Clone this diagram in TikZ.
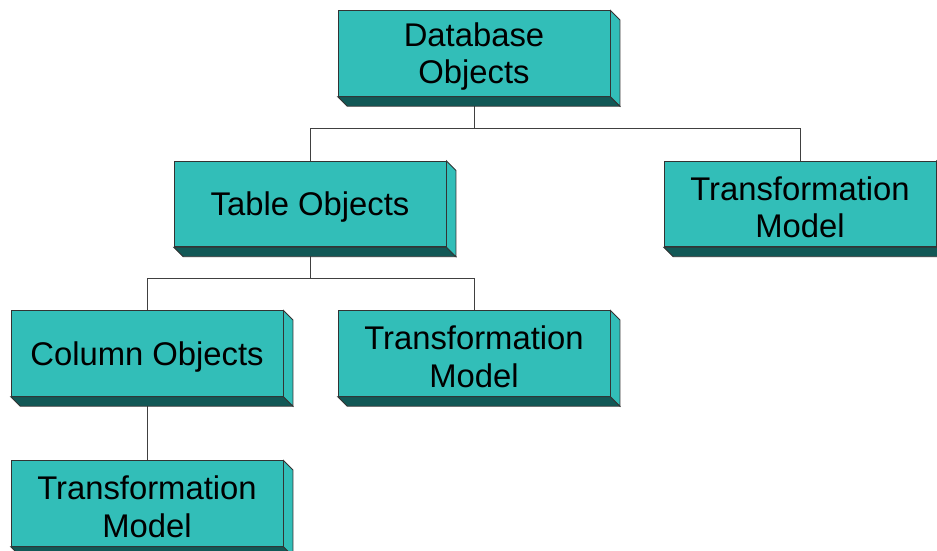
\documentclass[tikz,border=0pt]{standalone}
\usepackage{fontspec}
\setmainfont{Liberation Sans}
\usetikzlibrary{backgrounds}

\definecolor{tealface}{RGB}{50,190,184}
\definecolor{tealshade}{RGB}{18,88,86}

\begin{document}
\begin{tikzpicture}[x=1pt,y=-1pt,
    objbox/.style={draw=black!80,line width=0.8pt,fill=tealface,
        minimum width=272pt,minimum height=85.5pt,inner sep=0pt,
        align=center,font=\fontsize{32.8}{37.5}\selectfont},
    oneline/.style={objbox,text height=30pt},
    twoline/.style={objbox,text height=67.5pt},
    link/.style={draw=black!75,line width=1pt}]
    \def\depth{9.5}
    \useasboundingbox (0,0) rectangle (937,550);

    % object hierarchy
    \node[twoline] (db)  at (474,53.5)  {Database\\Objects};
    \node[oneline] (tbl) at (310,204)   {Table Objects};
    \node[twoline] (rtm) at (800,204)   {Transformation\\Model};
    \node[oneline] (col) at (147,353.5) {Column Objects};
    \node[twoline] (mtm) at (474,353.5) {Transformation\\Model};
    \node[twoline] (btm) at (147,503.5) {Transformation\\Model};

    % extruded bottom and right faces
    \foreach \n in {db,tbl,rtm,col,mtm,btm} {
        \filldraw[fill=tealshade,draw=black!80,line width=0.8pt]
            (\n.south west) -- ++(\depth,\depth)
            -- ([shift={(\depth,\depth)}]\n.south east)
            -- (\n.south east) -- cycle;
        \filldraw[fill=tealface,draw=black!80,line width=0.8pt]
            (\n.north east) -- ++(\depth,\depth)
            -- ([shift={(\depth,\depth)}]\n.south east)
            -- (\n.south east) -- cycle;
    }

    % tree connectors
    \begin{scope}[on background layer]
        \draw[link] (db.south) -- ++(0,32) -| (tbl.north);
        \draw[link] (db.south) -- ++(0,32) -| (rtm.north);
        \draw[link] (tbl.south) -- ++(0,31.5) -| (col.north);
        \draw[link] (tbl.south) -- ++(0,31.5) -| (mtm.north);
        \draw[link] (col) -- (btm);
    \end{scope}
\end{tikzpicture}
\end{document}
